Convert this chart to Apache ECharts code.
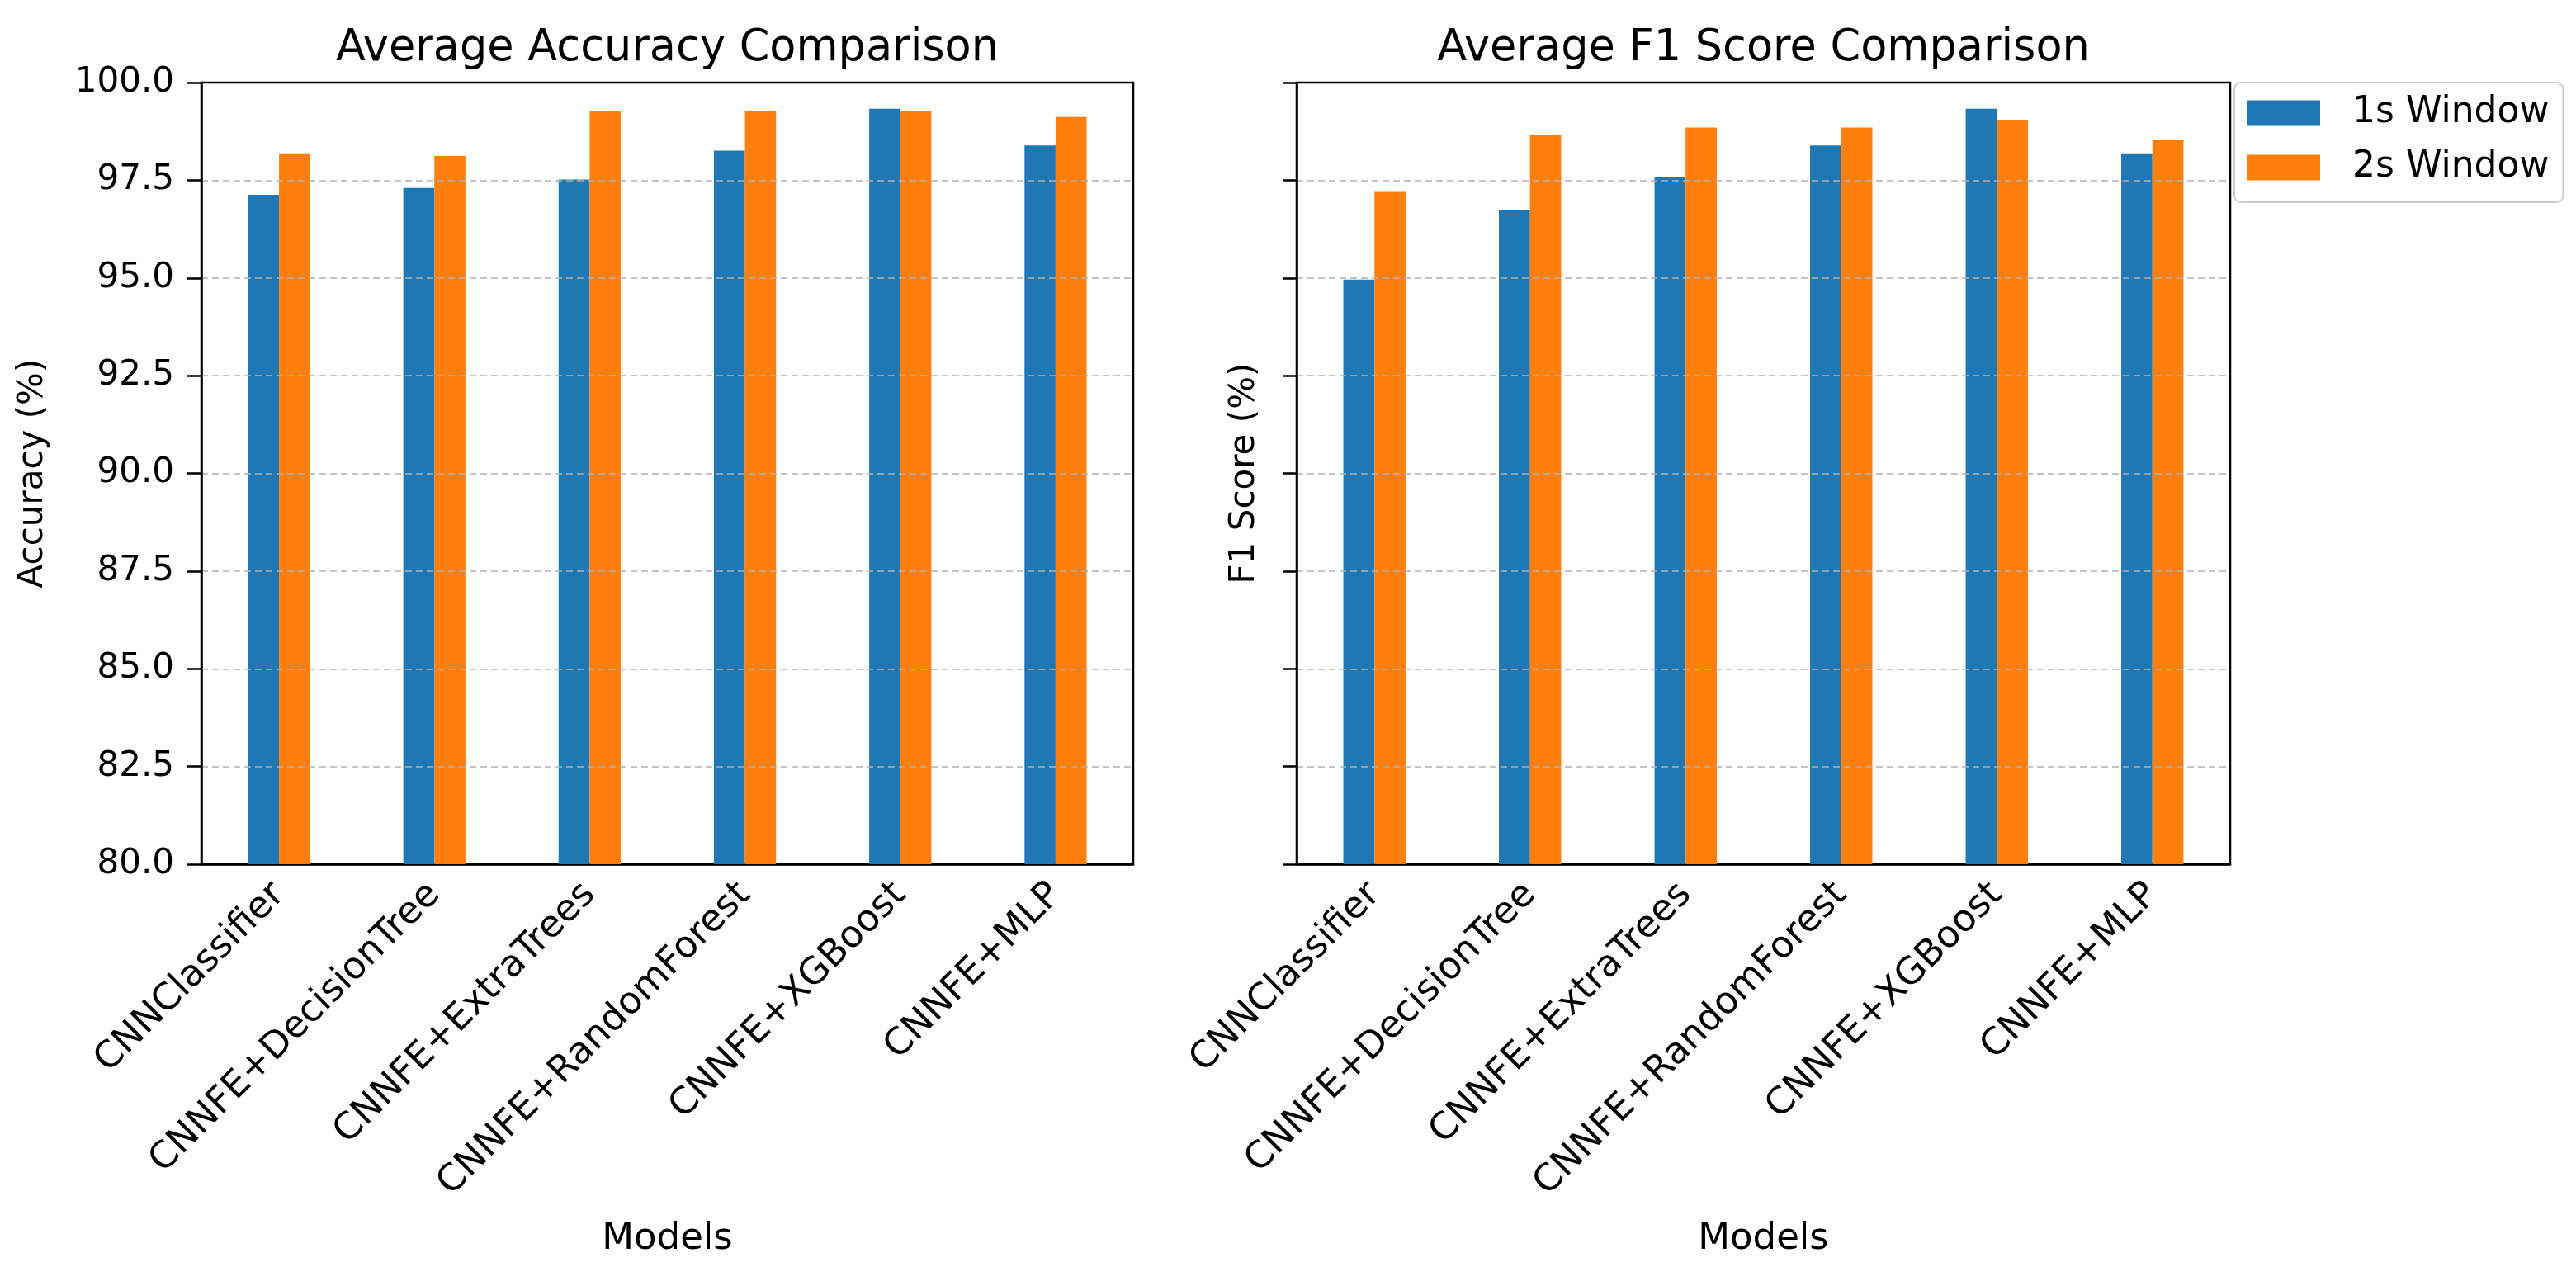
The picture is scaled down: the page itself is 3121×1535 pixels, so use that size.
<!DOCTYPE html>
<html>
<head>
<meta charset="utf-8">
<script src="https://cdn.jsdelivr.net/npm/echarts@6/dist/echarts.min.js"></script>
<style>
html,body{margin:0;padding:0;background:#fff;}
#chart{width:3121px;height:1535px;}
</style>
</head>
<body>
<div id="chart"></div>
<script>
const models = ['CNNClassifier','CNNFE+DecisionTree','CNNFE+ExtraTrees','CNNFE+RandomForest','CNNFE+XGBoost','CNNFE+MLP'];
const seriesNames = ['1s Window','2s Window'];
const acc1s = [97.13, 97.30, 97.52, 98.26, 99.33, 98.39];
const acc2s = [98.19, 98.12, 99.26, 99.26, 99.26, 99.12];
const f1_1s = [94.96, 96.73, 97.59, 98.39, 99.33, 98.19];
const f1_2s = [97.20, 98.65, 98.85, 98.85, 99.05, 98.52];
const titles = ['Average Accuracy Comparison','Average F1 Score Comparison'];
const yNames = ['Accuracy (%)','F1 Score (%)'];
const xName = 'Models';
const yMin = 80, yMax = 100, yStep = 2.5;

const FONT = 'DejaVu Sans';
const colors = ['#1f77b4','#ff7f0e'];
const grids = [
  {left:244, top:100, width:1129, height:947},
  {left:1571, top:100, width:1131, height:947}
];

function xAxisCfg(i){
  return {
    type:'category', gridIndex:i, data:models,
    name:xName, nameLocation:'middle', nameGap:432,
    nameTextStyle:{fontFamily:FONT, fontSize:45, color:'#000'},
    axisLine:{lineStyle:{color:'#000', width:2.5}},
    axisTick:{alignWithLabel:true, length:17, lineStyle:{color:'#000', width:2.5}},
    axisLabel:{rotate:45, margin:30, fontFamily:FONT, fontSize:45, color:'#000', interval:0},
    splitLine:{show:false}
  };
}
function yAxisCfg(i){
  return {
    type:'value', gridIndex:i, min:yMin, max:yMax, interval:yStep, z:3,
    name:yNames[i], nameLocation:'middle', nameRotate:90,
    nameGap: i===0 ? 183 : 42,
    nameTextStyle:{fontFamily:FONT, fontSize:42, color:'#000'},
    axisLine:{show:true, lineStyle:{color:'#000', width:2.5}},
    axisTick:{show:true, length:17, lineStyle:{color:'#000', width:2.5}},
    axisLabel:{show:i===0, margin:33, fontFamily:FONT, fontSize:42, color:'#000',
      formatter:v=>v.toFixed(1)},
    splitLine:{show:true, showMinLine:false, showMaxLine:false,
      lineStyle:{color:'rgba(176,176,176,0.75)', width:2, type:[8,5]}}
  };
}
function barSeries(name, data, gi, color){
  return {
    type:'bar', name:name, xAxisIndex:gi, yAxisIndex:gi, data:data,
    barWidth:'20%', barGap:'0%', itemStyle:{color:color}, z:2
  };
}

const chart = echarts.init(document.getElementById('chart'), null, {renderer:'canvas'});
chart.setOption({
  animation:false,
  backgroundColor:'#fff',
  title: titles.map((t,i)=>({
    text:t, left: grids[i].left + grids[i].width/2, top:33, textAlign:'center',
    padding:0,
    textStyle:{fontFamily:FONT, fontSize:52.5, fontWeight:'normal', color:'#000'}
  })),
  legend:{
    data:seriesNames, orient:'vertical', left:2707, top:100,
    padding:[15,17,20,15], itemWidth:89, itemHeight:31, itemGap:22,
    icon:'rect',
    backgroundColor:'rgba(255,255,255,0.8)',
    borderColor:'#cccccc', borderWidth:2, borderRadius:8,
    itemStyle:{borderWidth:0},
    textStyle:{fontFamily:FONT, fontSize:44, color:'#000', padding:[0,0,0,34]}
  },
  grid: grids.map(g=>Object.assign({show:true, borderColor:'#000', borderWidth:2.5, backgroundColor:'transparent'}, g)),
  xAxis:[xAxisCfg(0), xAxisCfg(1)],
  yAxis:[yAxisCfg(0), yAxisCfg(1)],
  series:[
    barSeries(seriesNames[0], acc1s, 0, colors[0]),
    barSeries(seriesNames[1], acc2s, 0, colors[1]),
    barSeries(seriesNames[0], f1_1s, 1, colors[0]),
    barSeries(seriesNames[1], f1_2s, 1, colors[1])
  ]
});
</script>
</body>
</html>
